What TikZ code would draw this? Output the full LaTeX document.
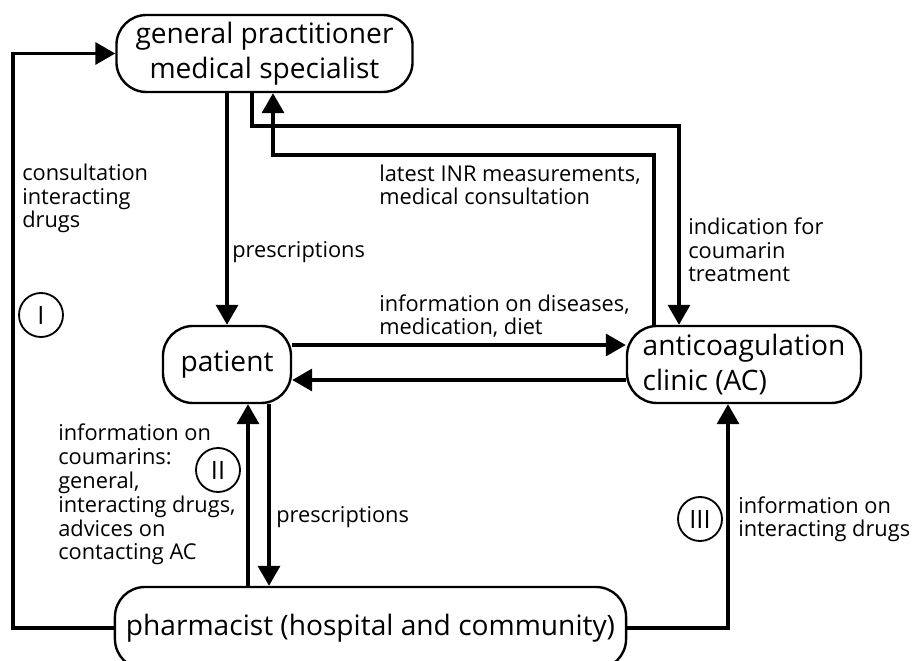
\documentclass[tikz,border=0pt]{standalone}
\usepackage{fontspec}
\setmainfont{Open Sans}
\usetikzlibrary{arrows.meta, positioning}

\begin{document}
\begin{tikzpicture}[
  x=0.025cm,
  y=-0.025cm,
  actor/.style={draw, line width=1.7pt, rounded corners=0.75cm, inner sep=0,
    align=center, font=\fontsize{20}{25}\selectfont},
  flow/.style={line width=2.5pt, -{Triangle[length=0.5cm, width=0.55cm]}},
  note/.style={anchor=base west, inner sep=0, align=left,
    font=\fontsize{15.5}{17}\selectfont},
  roman/.style={draw, circle, line width=1.3pt, minimum size=1.1cm, inner sep=0,
    font=\fontsize{18}{18}\selectfont}
  ]
    \useasboundingbox (0,0) rectangle (921,661);

    % actors
    \node[actor, minimum width=7.4cm, minimum height=1.925cm] (gp) at (264.5,53.5)
      {general practitioner\\medical specialist};
    \node[actor, minimum width=3.2cm, minimum height=1.925cm] (pat) at (227,364.5) {patient};
    \node[actor, minimum width=5.85cm, minimum height=1.925cm, align=left] (ac) at (744,364.5)
      {anticoagulation\\clinic (AC)};
    % runs past the lower edge of the page
    \node[actor, minimum width=12.775cm, minimum height=2.05cm] (pharm) at (370.5,628)
      {pharmacist (hospital and community)};

    % rails and bends
    \coordinate (leftrail) at (13,0);
    \coordinate (rightrail) at (728,0);
    \coordinate (ind1) at (252,126);
    \coordinate (ind2) at (679,126);
    \coordinate (inr1) at (654,155);
    \coordinate (inr2) at (273,155);
    \coordinate (upper) at (0,345);
    \coordinate (lower) at (0,380);
    \coordinate (up2) at (248,0);
    \coordinate (down2) at (269,0);

    % I: pharmacist -- GP
    \draw[flow] (pharm.west) -- (pharm.west -| leftrail) |- (gp.west);

    % GP -- patient -- AC
    \draw[flow] (gp.south -| pat.north) -- (pat.north);
    \draw[flow] (gp.south -| ind1) -- (ind1) -- (ind2) -- (ind2 |- ac.north);
    \draw[flow] (ac.north -| inr1) -- (inr1) -- (inr2) -- (inr2 |- gp.south);
    \draw[flow] (pat.east |- upper) -- (ac.west |- upper);
    \draw[flow] (ac.west |- lower) -- (pat.east |- lower);

    % II: pharmacist -- patient
    \draw[flow] (pharm.north -| up2) -- (pat.south -| up2);
    \draw[flow] (pat.south -| down2) -- (pharm.north -| down2);

    % III: pharmacist -- AC
    \draw[flow] (pharm.east) -- (pharm.east -| rightrail) -- (ac.south -| rightrail);

    % numbers
    \node[roman] (one) at (41,315) {I};
    \node[roman] (two) at (218,470) {II};
    \node[roman] (three) at (700,519) {III};

    % labels (base = last line)
    \node[note] (consult) at (22,228) {consultation\\interacting\\drugs};
    \node[note] (prescA) at (232,258) {prescriptions};
    \node[note] (inr) at (379,205) {latest INR measurements,\\medical consultation};
    \node[note] (indic) at (688,282) {indication for\\coumarin\\treatment};
    \node[note] (diseases) at (379,335) {information on diseases,\\medication, diet};
    \node[note] (coum) at (58,560) {information on\\coumarins:\\general,\\interacting drugs,\\advices on\\contacting AC};
    \node[note] (prescB) at (276,523) {prescriptions};
    \node[note] (interact) at (738,537) {information on\\interacting drugs};

\end{tikzpicture}
\end{document}
